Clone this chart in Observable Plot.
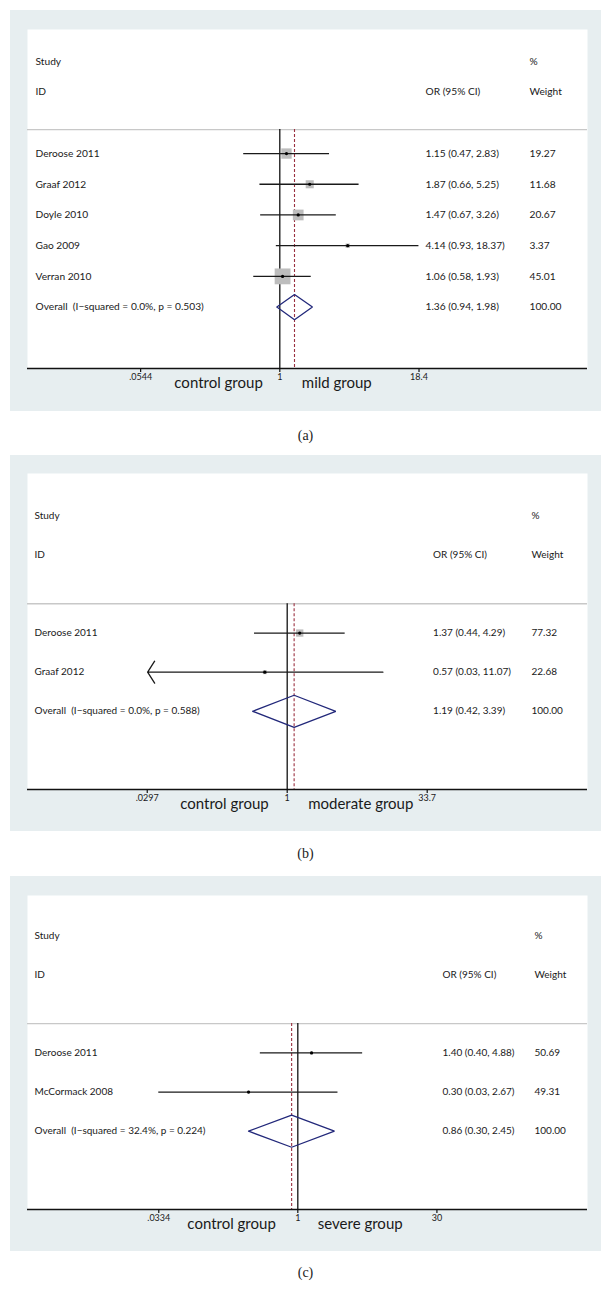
<!DOCTYPE html>
<html><head><meta charset="utf-8">
<script src="https://cdn.jsdelivr.net/npm/d3@7"></script>
<script src="https://cdn.jsdelivr.net/npm/@observablehq/plot@0.6"></script>
<style>
body{margin:0;background:#fff;width:611px;height:1306px;position:relative;font-family:Lato,sans-serif;}
.panel{position:absolute;left:10px;width:591px;background:#e7eef0;}
.cap{position:absolute;left:10px;width:591px;text-align:center;font-family:"Liberation Serif",serif;font-size:14px;line-height:16px;color:#222;}
svg text{white-space:pre;}
</style></head><body>
<div id="pa" class="panel" style="top:10px;height:401px"></div>
<div class="cap" style="top:428px">(a)</div>
<div id="pb" class="panel" style="top:455px;height:376px"></div>
<div class="cap" style="top:846px">(b)</div>
<div id="pc" class="panel" style="top:876px;height:375px"></div>
<div class="cap" style="top:1265px">(c)</div>
<script>
// ---- Panel (a): control vs mild
const studiesA = ["Deroose 2011", "Graaf 2012", "Doyle 2010", "Gao 2009", "Verran 2010"];
const orA = [1.15, 1.87, 1.47, 4.14, 1.06];
const loA = [0.47, 0.66, 0.67, 0.93, 0.58];
const hiA = [2.83, 5.25, 3.26, 18.37, 1.93];
const weightA = [19.27, 11.68, 20.67, 3.37, 45.01];
const arrowA = [false, false, false, false, false];
const overallA = [1.36, 0.94, 1.98];
const hetA = ["0.0%", "0.503"];
const ticksA = [0.0544, 1, 18.4];
const tickLabelsA = [".0544", "1", "18.4"];
const groupsA = ["control group", "mild group"];

// ---- Panel (b): control vs moderate
const studiesB = ["Deroose 2011", "Graaf 2012"];
const orB = [1.37, 0.57];
const loB = [0.44, 0.03];
const hiB = [4.29, 11.07];
const weightB = [77.32, 22.68];
const arrowB = [false, true];
const overallB = [1.19, 0.42, 3.39];
const hetB = ["0.0%", "0.588"];
const ticksB = [0.0297, 1, 33.7];
const tickLabelsB = [".0297", "1", "33.7"];
const groupsB = ["control group", "moderate group"];

// ---- Panel (c): control vs severe
const studiesC = ["Deroose 2011", "McCormack 2008"];
const orC = [1.40, 0.30];
const loC = [0.40, 0.03];
const hiC = [4.88, 2.67];
const weightC = [50.69, 49.31];
const arrowC = [false, false];
const overallC = [0.86, 0.30, 2.45];
const hetC = ["32.4%", "0.224"];
const ticksC = [0.0334, 1, 30];
const tickLabelsC = [".0334", "1", "30"];
const groupsC = ["control group", "severe group"];

const headers = ["Study", "ID", "OR (95% CI)", "%", "Weight"];

function forest(el, d, L) {
  const n = d.studies.length;
  const axisRow = n + 5;
  const xmin = d.ticks[0], xmax = d.ticks[d.ticks.length - 1];
  const f2 = v => v.toFixed(2);
  const rows = d.studies.map((s, i) => ({
    name: s, or: d.or[i], lo: Math.max(d.lo[i], xmin), hi: Math.min(d.hi[i], xmax),
    arrow: d.arrow[i], row: i + 3, w: d.weight[i],
    ci: `${f2(d.or[i])} (${f2(d.lo[i])}, ${f2(d.hi[i])})`, wt: f2(d.weight[i])
  }));
  const ovRow = n + 3;
  const [ov, ovLo, ovHi] = d.overall;
  const nameCol = [{t: headers[0], row: 0}, {t: headers[1], row: 1},
    ...rows.map(r => ({t: r.name, row: r.row})),
    {t: `Overall  (I\u2212squared = ${d.het[0]}, p = ${d.het[1]})`, row: ovRow}];
  const ciCol = [{t: headers[2], row: 1}, ...rows.map(r => ({t: r.ci, row: r.row})),
    {t: `${f2(ov)} (${f2(ovLo)}, ${f2(ovHi)})`, row: ovRow}];
  const wCol = [{t: headers[3], row: 0}, {t: headers[4], row: 1}, ...rows.map(r => ({t: r.wt, row: r.row})),
    {t: f2(100), row: ovRow}];
  const tickData = d.ticks.map((v, i) => ({v, label: d.tickLabels[i]}));
  const h = 0.41;
  const diamond = [{x: ovLo, y: ovRow}, {x: ov, y: ovRow - h}, {x: ovHi, y: ovRow}, {x: ov, y: ovRow + h}, {x: ovLo, y: ovRow}];
  const txt = {fill: "#1a1a1a", fontSize: L.fs, textAnchor: "start", frameAnchor: "left", y: "row", text: "t"};
  const plot = Plot.plot({
    width: 591, height: L.height,
    marginTop: L.mt, marginBottom: L.mb, marginLeft: 17, marginRight: 14,
    style: {background: "transparent", fontFamily: "Lato, sans-serif", fontSize: "10px", color: "#1a1a1a"},
    x: {type: "log", domain: [Math.exp(L.ln[0]), Math.exp(L.ln[1])], axis: null},
    y: {domain: [L.yTop, axisRow], reverse: true, axis: null},
    r: {type: "identity"},
    marks: [
      Plot.frame({fill: "white", stroke: null}),
      Plot.ruleY([L.headerRow], {stroke: "#c8c8c8", strokeWidth: 1.3}),
      Plot.ruleX([1], {y1: L.headerRow, y2: axisRow, stroke: "#111", strokeWidth: 1.3}),
      Plot.ruleX([ov], {y1: L.headerRow, y2: axisRow, stroke: "#9a3040", strokeWidth: 1.1, strokeDasharray: "3,2"}),
      Plot.dot(rows, {x: "or", y: "row", symbol: "square", r: r => L.boxK * Math.sqrt(r.w) / Math.sqrt(Math.PI), fill: "#bdbdbd", stroke: null}),
      Plot.ruleY(rows.filter(r => !r.arrow), {y: "row", x1: "lo", x2: "hi", stroke: "#1a1a1a", strokeWidth: 1.3}),
      Plot.arrow(rows.filter(r => r.arrow), {x1: "hi", x2: "lo", y1: "row", y2: "row", stroke: "#1a1a1a", strokeWidth: 1.3, headLength: 15, headAngle: 115}),
      Plot.dot(rows, {x: "or", y: "row", r: 1.6, fill: "#000", stroke: null}),
      Plot.line(diamond, {x: "x", y: "y", stroke: "#22287a", strokeWidth: 1.3, curve: "linear", strokeLinejoin: "miter"}),
      Plot.text(nameCol, {...txt, dx: L.cols[0]}),
      Plot.text(ciCol, {...txt, dx: L.cols[1]}),
      Plot.text(wCol, {...txt, dx: L.cols[2]}),
      Plot.ruleY([axisRow], {stroke: "#111", strokeWidth: 1.3}),
      Plot.ruleX(tickData, {x: "v", y1: axisRow, y2: axisRow, insetBottom: -4, stroke: "#111", strokeWidth: 1.2}),
      Plot.text(tickData, {x: "v", text: "label", frameAnchor: "bottom", dy: 11, fontSize: 9, fill: "#1a1a1a"}),
      Plot.text([{t: d.groups[0], x: 1}], {x: "x", text: "t", frameAnchor: "bottom", dy: 19, dx: L.g[0], textAnchor: "end", fontSize: 15, fill: "#1a1a1a"}),
      Plot.text([{t: d.groups[1], x: 1}], {x: "x", text: "t", frameAnchor: "bottom", dy: 19, dx: L.g[1], textAnchor: "start", fontSize: 15, fill: "#1a1a1a"})
    ]
  });
  document.getElementById(el).appendChild(plot);
}

forest("pa",
  {studies: studiesA, or: orA, lo: loA, hi: hiA, weight: weightA, arrow: arrowA, overall: overallA, het: hetA, ticks: ticksA, tickLabels: tickLabelsA, groups: groupsA},
  {height: 401, mt: 19, mb: 43, ln: [-5.278, 6.437], yTop: -1.04, headerRow: 2.22, boxK: 2.36, cols: [8, 398, 502], fs: 10.2, g: [-17, 22]});
forest("pb",
  {studies: studiesB, or: orB, lo: loB, hi: hiB, weight: weightB, arrow: arrowB, overall: overallB, het: hetB, ticks: ticksB, tickLabels: tickLabelsB, groups: groupsB},
  {height: 376, mt: 18, mb: 42, ln: [-6.525, 7.545], yTop: -1.08, headerRow: 2.25, boxK: 0.83, cols: [7, 405.6, 504], fs: 10, g: [-18.5, 21]});
forest("pc",
  {studies: studiesC, or: orC, lo: loC, hi: hiC, weight: weightC, arrow: arrowC, overall: overallC, het: hetC, ticks: ticksC, tickLabels: tickLabelsC, groups: groupsC},
  {height: 375, mt: 19, mb: 42, ln: [-6.609, 7.083], yTop: -1.02, headerRow: 2.25, boxK: 0.4, cols: [7, 415, 507], fs: 10, g: [-22, 20]});
</script>
</body></html>
